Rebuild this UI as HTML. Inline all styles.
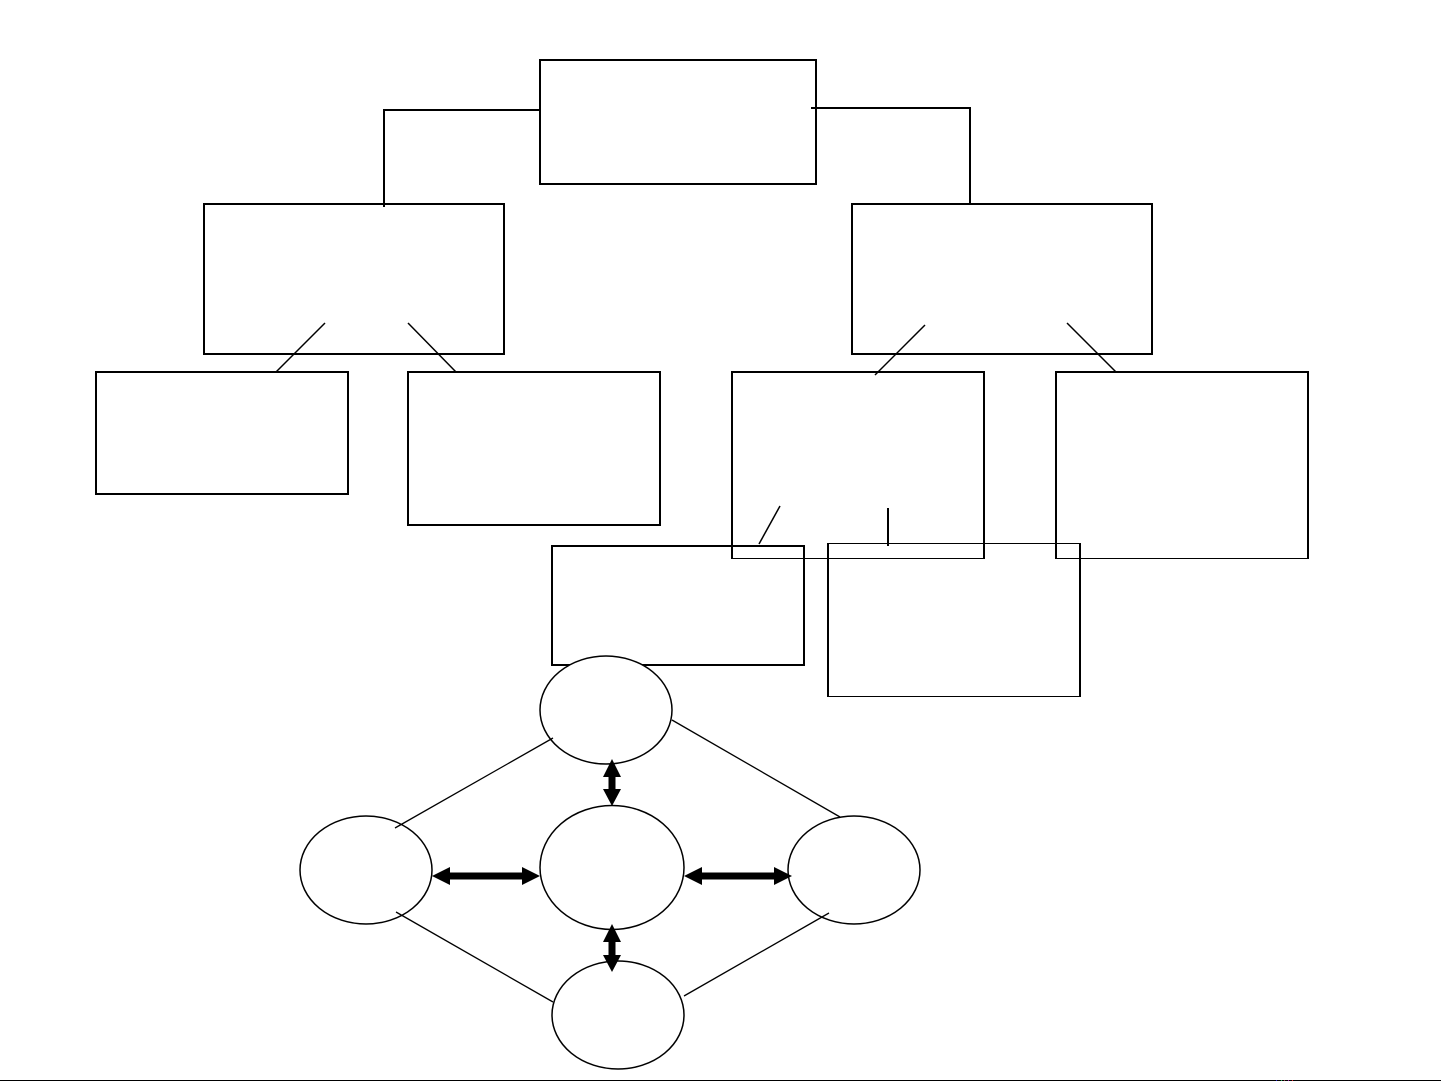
<!DOCTYPE html>
<html>
<head>
<meta charset="utf-8">
<style>
html,body{margin:0;padding:0;background:#fff;width:1441px;height:1081px;overflow:hidden}
svg{display:block}
</style>
</head>
<body>
<svg width="1441" height="1081" viewBox="0 0 1441 1081" xmlns="http://www.w3.org/2000/svg">
<rect width="1441" height="1081" fill="#fff"/>
<g fill="none" stroke="#000" stroke-width="2">
<rect x="540" y="60" width="276" height="124"/>
<rect x="204" y="204" width="300" height="150"/>
<rect x="852" y="204" width="300" height="150"/>
<rect x="96" y="372" width="252" height="122"/>
<rect x="408" y="372" width="252" height="153"/>
<rect x="552" y="546" width="252" height="119"/>
<path d="M733 372H984V558"/>
<path d="M732 371V558"/>
<path d="M1057 372H1308V558"/>
<path d="M1056 371V558"/>
<path d="M828 543V697"/>
<path d="M1080 543V697"/>
<path d="M540 110H384V207"/>
<path d="M811 108H970V204"/>
<path d="M888 508V546"/>
</g>
<g fill="#000">
<rect x="731" y="558" width="254" height="1"/>
<rect x="1055" y="558" width="254" height="1"/>
<rect x="827" y="543" width="254" height="1"/>
<rect x="827" y="696" width="254" height="1"/>
</g>
<g fill="none" stroke="#000" stroke-width="1.5">
<path d="M325 323L276 372"/>
<path d="M408 323L456 372"/>
<path d="M925 325L875 375"/>
<path d="M1067 323L1116 372"/>
<path d="M780 506L759 544"/>
</g>
<g fill="#fff" stroke="#000" stroke-width="1.5">
<ellipse cx="606" cy="710" rx="66" ry="54"/>
<ellipse cx="366" cy="870" rx="66" ry="54"/>
<ellipse cx="612" cy="867.500" rx="72" ry="62"/>
<ellipse cx="854" cy="870" rx="66" ry="54"/>
<ellipse cx="618" cy="1015" rx="66" ry="54"/>
</g>
<g fill="none" stroke="#000" stroke-width="1.3">
<path d="M553 738L395 828"/>
<path d="M672 720L840 817"/>
<path d="M396 912L553 1002"/>
<path d="M829 913L684 996"/>
</g>
<g fill="#000">
<path d="M612 759L621 777H615.500V789H621L612 806L603 789H608.500V777H603Z"/>
<path d="M612 924L621 942H615.500V955H621L612 972L603 955H608.500V942H603Z"/>
<path d="M432 876L450 867V872.500H522V867L540 876L522 885V879.500H450V885Z"/>
<path d="M684 876L702 867V872.500H774V867L792 876L774 885V879.500H702V885Z"/>
</g>
<rect x="0" y="1080" width="1441" height="1" fill="#000"/>
<rect x="1276" y="1080" width="1" height="1" fill="#22c"/>
<rect x="1281" y="1080" width="1" height="1" fill="#2a5"/>
<rect x="1284" y="1080" width="1" height="1" fill="#844"/>
<rect x="1288" y="1080" width="1" height="1" fill="#a2a"/>
<rect x="1292" y="1080" width="1" height="1" fill="#d22"/>
</svg>
</body>
</html>
